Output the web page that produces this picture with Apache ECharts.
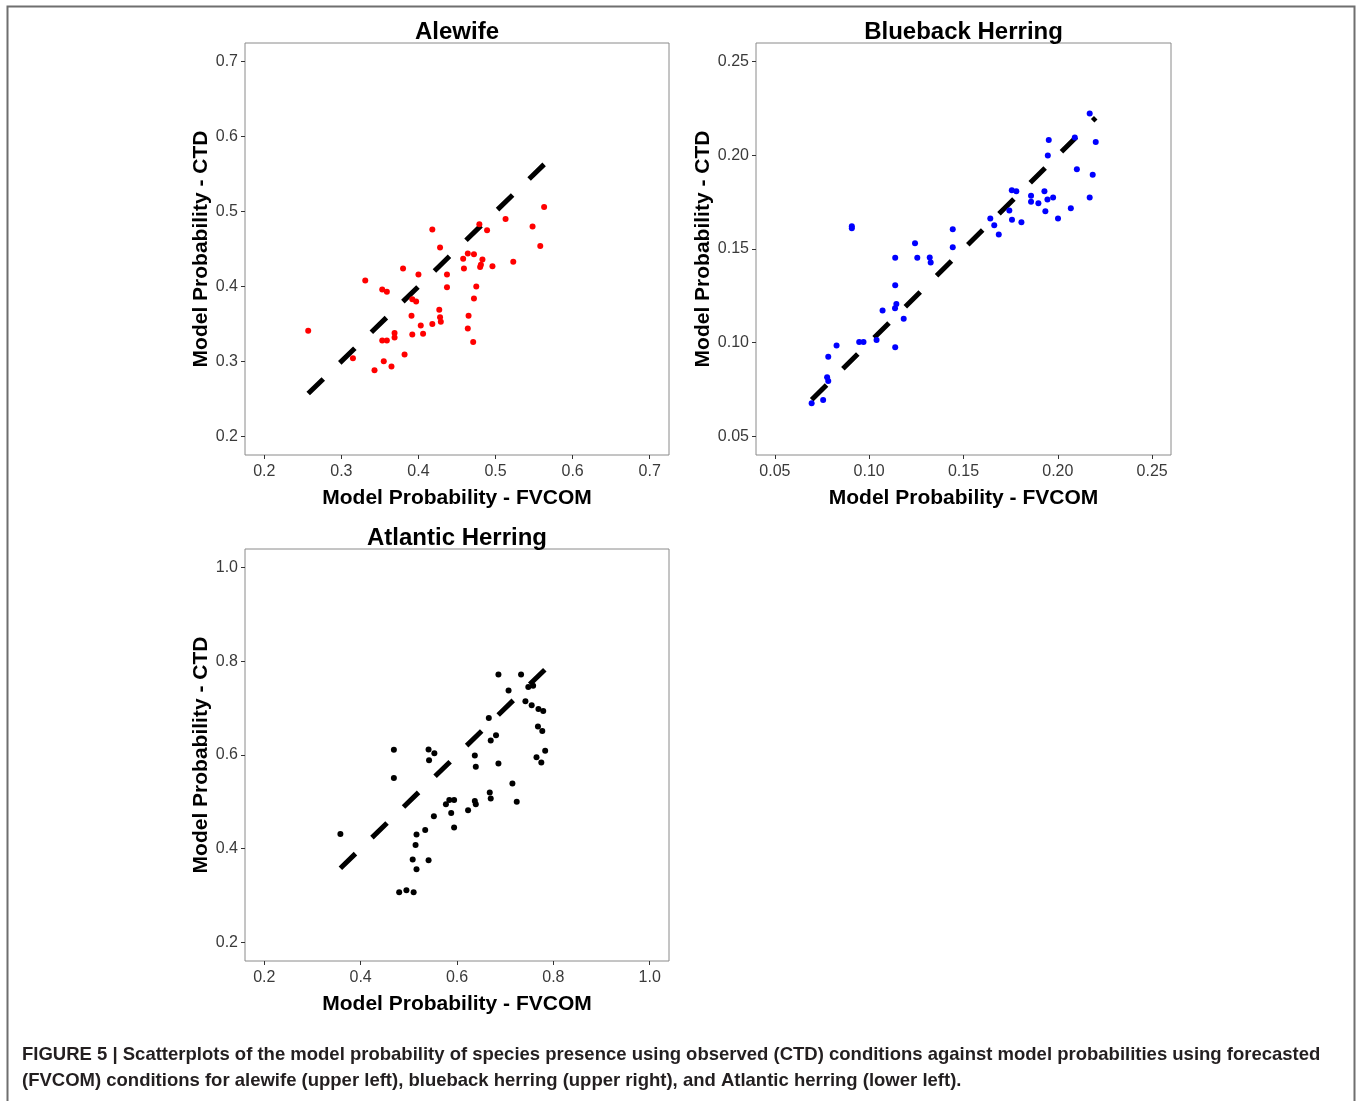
<!DOCTYPE html>
<html><head><meta charset="utf-8">
<script src="https://cdn.jsdelivr.net/npm/echarts@6/dist/echarts.min.js"></script>
<style>html,body{margin:0;padding:0;background:#fff}#c{width:1362px;height:1101px}</style>
</head><body><div id="c"></div><script>
// ---------------- DATA ----------------
const alewifeFVCOM = [0.563,0.513,0.548,0.479,0.489,0.418,0.558,0.428,0.464,0.472,0.458,0.483,0.481,0.480,0.459,0.496,0.523,0.380,0.400,0.437,0.331,0.353,0.359,0.437,0.475,0.472,0.392,0.397,0.427,0.428,0.429,0.391,0.403,0.418,0.465,0.464,0.406,0.392,0.471,0.369,0.369,0.353,0.359,0.257,0.382,0.315,0.355,0.365,0.343];
const alewifeCTD   = [0.506,0.490,0.480,0.483,0.475,0.476,0.454,0.452,0.444,0.443,0.437,0.436,0.429,0.426,0.424,0.427,0.433,0.424,0.416,0.416,0.408,0.396,0.393,0.399,0.400,0.384,0.383,0.380,0.369,0.359,0.353,0.361,0.348,0.350,0.361,0.344,0.337,0.336,0.326,0.338,0.332,0.328,0.328,0.341,0.309,0.304,0.300,0.293,0.288];

const bluebackFVCOM = [0.2169,0.2201,0.2090,0.1952,0.1947,0.2101,0.2185,0.1756,0.1780,0.1929,0.1858,0.1975,0.1945,0.1858,0.1897,0.2169,0.2069,0.1934,0.2001,0.1743,0.1757,0.1807,0.1642,0.1663,0.1687,0.1443,0.1443,0.1243,0.1255,0.1321,0.1326,0.1138,0.0908,0.0908,0.1138,0.1144,0.1137,0.1071,0.1183,0.1039,0.0947,0.0970,0.1138,0.0827,0.0783,0.0777,0.0783,0.0695,0.0756];
const bluebackCTD   = [0.2224,0.2072,0.2095,0.2082,0.1999,0.1926,0.1897,0.1814,0.1808,0.1808,0.1785,0.1775,0.1764,0.1752,0.1744,0.1775,0.1718,0.1702,0.1663,0.1705,0.1656,0.1643,0.1663,0.1627,0.1577,0.1606,0.1510,0.1531,0.1453,0.1455,0.1428,0.1453,0.1622,0.1611,0.1307,0.1206,0.1183,0.1172,0.1128,0.1014,0.1003,0.1003,0.0976,0.0985,0.0925,0.0815,0.0795,0.0676,0.0694];

const atlanticFVCOM = [0.686,0.733,0.707,0.758,0.748,0.742,0.755,0.769,0.779,0.666,0.768,0.777,0.681,0.670,0.783,0.765,0.775,0.686,0.637,0.639,0.469,0.541,0.553,0.542,0.469,0.715,0.724,0.668,0.670,0.637,0.639,0.623,0.584,0.594,0.577,0.588,0.552,0.594,0.534,0.516,0.514,0.508,0.541,0.516,0.358,0.480,0.495,0.510];
const atlanticCTD   = [0.772,0.772,0.738,0.748,0.745,0.715,0.706,0.698,0.694,0.679,0.661,0.651,0.642,0.631,0.609,0.595,0.584,0.582,0.599,0.575,0.611,0.612,0.604,0.589,0.551,0.539,0.500,0.520,0.507,0.502,0.495,0.482,0.504,0.504,0.495,0.476,0.469,0.445,0.440,0.430,0.408,0.377,0.375,0.356,0.431,0.307,0.311,0.307];

const alewifeTicks  = [0.2,0.3,0.4,0.5,0.6,0.7];
const bluebackTicks = [0.05,0.10,0.15,0.20,0.25];
const atlanticTicks = [0.2,0.4,0.6,0.8,1.0];

const panelTitles = ['Alewife','Blueback Herring','Atlantic Herring'];
const xTitle = 'Model Probability - FVCOM';
const yTitle = 'Model Probability - CTD';
const captionLines = [
  'FIGURE 5 | Scatterplots of the model probability of species presence using observed (CTD) conditions against model probabilities using forecasted',
  '(FVCOM) conditions for alewife (upper left), blueback herring (upper right), and Atlantic herring (lower left).'
];

// ---------------- CHART ----------------
const FONT = '"Liberation Sans", Arial, Helvetica, sans-serif';
const zip = (a, b) => a.map((v, i) => [v, b[i]]);
const idLine = (xs) => { const lo = Math.min(...xs), hi = Math.max(...xs); return [[lo, lo], [hi, hi]]; };

const grids = [
  {left: 245, top: 43, width: 424, height: 412},
  {left: 756, top: 43, width: 415, height: 412},
  {left: 245, top: 549, width: 424, height: 412}
];
const ranges = [[0.175, 0.725], [0.04, 0.26], [0.16, 1.04]];
const tickSets = [alewifeTicks, bluebackTicks, atlanticTicks];
const decimals = [1, 2, 1];

function axis(i, name, isX) {
  return {
    gridIndex: i, type: 'value', min: ranges[i][0], max: ranges[i][1],
    name: name, nameLocation: 'middle', nameGap: isX ? 33 : 32,
    nameTextStyle: {fontFamily: FONT, fontSize: 21, fontWeight: 'bold', color: '#000'},
    axisLine: {show: false}, splitLine: {show: false},
    axisTick: {show: true, length: 4, customValues: tickSets[i], lineStyle: {color: '#333', width: 1}},
    axisLabel: {customValues: tickSets[i], formatter: v => v.toFixed(decimals[i]),
      fontFamily: FONT, fontSize: 16, color: '#3a3a3a', margin: isX ? 9 : 7}
  };
}

const datasets = [
  {x: alewifeFVCOM, y: alewifeCTD, color: '#ff0000'},
  {x: bluebackFVCOM, y: bluebackCTD, color: '#0000ff'},
  {x: atlanticFVCOM, y: atlanticCTD, color: '#000000'}
];

const series = [];
datasets.forEach((d, i) => {
  series.push({
    type: 'line', xAxisIndex: i, yAxisIndex: i, data: idLine(d.x), symbol: 'none', silent: true, z: 2,
    lineStyle: {color: '#000', width: 5, type: [21, 23], cap: 'butt'}
  });
  series.push({
    type: 'scatter', xAxisIndex: i, yAxisIndex: i, data: zip(d.x, d.y), symbol: 'circle', symbolSize: 6, z: 3,
    itemStyle: {color: d.color, opacity: 1}
  });
});

const graphics = [
  {type: 'rect', shape: {x: 7.5, y: 6.5, width: 1347, height: 1110}, style: {fill: 'none', stroke: '#6f6f6f', lineWidth: 2}, silent: true}
];
grids.forEach((g, i) => {
  graphics.push({type: 'text', x: g.left + g.width / 2, y: g.top - 11,
    style: {text: panelTitles[i], fontFamily: FONT, fontSize: 24, fontWeight: 'bold', fill: '#000', textAlign: 'center', textVerticalAlign: 'middle'}});
});
captionLines.forEach((t, k) => {
  graphics.push({type: 'text', x: 22, y: 1055 + k * 26,
    style: {text: t, fontFamily: FONT, fontSize: 18.5, fontWeight: 'bold', fill: '#231f20', textAlign: 'left', textVerticalAlign: 'middle'}});
});

const chart = echarts.init(document.getElementById('c'), null, {renderer: 'canvas'});
chart.setOption({
  animation: false,
  backgroundColor: '#fff',
  grid: grids.map(g => Object.assign({show: true, borderColor: '#8a8a8a', borderWidth: 1, backgroundColor: '#fff', containLabel: false}, g)),
  xAxis: [0, 1, 2].map(i => axis(i, xTitle, true)),
  yAxis: [0, 1, 2].map(i => axis(i, yTitle, false)),
  series: series,
  graphic: graphics
});
</script></body></html>
